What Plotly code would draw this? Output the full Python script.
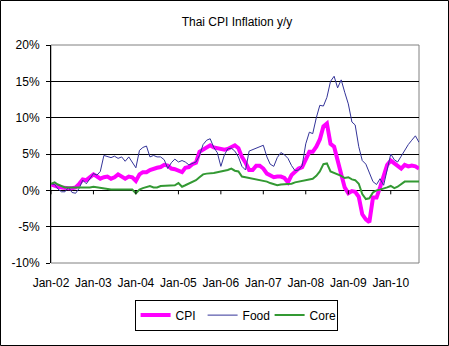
import pandas as pd
import plotly.graph_objects as go

# Monthly year-on-year inflation, Jan 2002 - Sep 2010 (%)
months = pd.date_range("2002-01-01", periods=105, freq="MS")

cpi = [
    0.8, 0.6, 0.5, 0.4, 0.3, 0.3, 0.3, 0.4, 0.9, 1.5, 1.4, 1.8,      # 2002
    2.2, 1.9, 1.6, 1.8, 1.9, 1.6, 1.8, 2.2, 1.9, 1.6, 1.9, 1.8,      # 2003
    1.3, 2.2, 2.5, 2.5, 2.8, 3.0, 3.1, 3.2, 3.5, 3.4, 3.0, 2.9,      # 2004
    2.7, 2.5, 3.1, 3.2, 3.6, 3.8, 5.3, 5.6, 6.0, 6.2, 5.9, 5.8,      # 2005
    5.6, 5.6, 5.7, 6.0, 6.2, 5.8, 4.6, 3.8, 2.8, 2.8, 3.4, 3.4,      # 2006
    3.0, 2.3, 2.0, 1.8, 1.9, 1.9, 1.7, 1.1, 2.1, 2.5, 3.0, 3.2,      # 2007
    4.3, 5.3, 5.3, 6.0, 7.0, 8.8, 9.2, 6.4, 6.0, 3.9, 2.2, 0.4,      # 2008
    -0.4, -0.1, -0.2, -0.9, -3.3, -4.0, -4.4, -1.0, -1.0, 0.4, 1.9, 3.5,  # 2009
    4.1, 3.7, 3.4, 3.0, 3.5, 3.3, 3.4, 3.3, 3.0,                     # 2010
]

food = [
    0.9, 0.8, 0.2, -0.2, -0.2, 0.4, -0.3, -0.4, 0.3, 1.4, 0.9, 1.6,  # 2002
    2.3, 2.1, 2.6, 4.8, 4.7, 4.5, 4.7, 4.4, 4.6, 4.0, 4.6, 3.8,      # 2003
    3.1, 5.5, 5.9, 6.1, 4.6, 4.8, 4.6, 4.6, 4.2, 3.0, 3.8, 4.3,      # 2004
    3.9, 4.1, 3.9, 3.5, 3.7, 3.9, 4.8, 6.3, 6.9, 7.1, 5.9, 5.2,      # 2005
    3.3, 4.9, 5.7, 5.8, 5.4, 4.6, 3.3, 2.8, 5.4, 5.6, 5.8, 6.1,      # 2006
    6.2, 4.6, 3.6, 3.3, 4.5, 5.2, 4.9, 4.4, 3.4, 2.7, 2.8, 3.4,      # 2007
    6.4, 8.0, 7.8, 10.0, 11.7, 11.6, 12.8, 15.0, 15.7, 14.1, 15.2, 13.5,  # 2008
    11.9, 9.4, 9.0, 6.0, 4.1, 3.6, 2.5, 1.2, 0.8, 1.6, 0.7, 2.9,     # 2009
    5.0, 4.2, 3.9, 4.7, 5.5, 6.3, 6.9, 7.5, 6.6,                     # 2010
]

core = [
    0.9, 1.1, 0.8, 0.6, 0.4, 0.4, 0.4, 0.3, 0.3, 0.3, 0.4, 0.4,      # 2002
    0.5, 0.4, 0.3, 0.2, 0.2, 0.1, 0.1, 0.1, 0.0, 0.0, 0.0, 0.1,      # 2003
    -0.4, 0.1, 0.3, 0.4, 0.6, 0.4, 0.4, 0.6, 0.6, 0.6, 0.7, 0.7,     # 2004
    1.0, 0.5, 0.7, 0.9, 1.1, 1.4, 1.8, 2.2, 2.3, 2.3, 2.4, 2.5,      # 2005
    2.6, 2.7, 2.8, 3.0, 2.7, 2.6, 1.9, 1.8, 1.7, 1.6, 1.5, 1.5,      # 2006
    1.4, 1.2, 1.0, 0.8, 0.7, 0.8, 0.8, 0.8, 0.9, 1.1, 1.2, 1.3,      # 2007
    1.4, 1.5, 1.6, 2.0, 2.6, 3.6, 3.7, 2.6, 2.4, 2.2, 2.0, 1.7,      # 2008
    1.8, 1.5, 1.4, 0.9, -0.5, -1.2, -1.1, -0.3, 0.0, 0.1, 0.2, 0.4,  # 2009
    0.6, 0.3, 0.5, 0.8, 1.2, 1.2, 1.2, 1.2, 1.2,                     # 2010
]

year_ticks = pd.date_range("2002-01-01", "2010-01-01", freq="YS")
year_labels = [d.strftime("%b-%y") for d in year_ticks]
y_ticks = [-10, -5, 0, 5, 10, 15, 20]
y_labels = [f"{v}%" for v in y_ticks]

W, H = 449, 346
ML, MR, MT, MB = 51, 30, 45, 83
FONT = "Liberation Sans, Arial, sans-serif"

fig = go.Figure()
fig.add_trace(go.Scatter(x=months, y=cpi, name="CPI", mode="lines",
                         line=dict(color="#FF00FF", width=4)))
fig.add_trace(go.Scatter(x=months, y=food, name="Food", mode="lines",
                         line=dict(color="#333399", width=1)))
fig.add_trace(go.Scatter(x=months, y=core, name="Core", mode="lines",
                         line=dict(color="#339933", width=2)))

# tick marks hanging below the zero line
for d in year_ticks:
    fig.add_shape(type="line", xref="x", yref="y", ysizemode="pixel",
                  yanchor=0, x0=d, x1=d, y0=0, y1=-4,
                  line=dict(color="black", width=1))

# plot-area frame
fig.add_shape(type="rect", xref="paper", yref="paper", x0=0, x1=1, y0=0, y1=1,
              line=dict(color="#808080", width=1), layer="below")

# chart-area frame around the whole figure
pw, ph = W - ML - MR, H - MT - MB
fig.add_shape(type="rect", xref="paper", yref="paper",
              x0=(0.5 - ML) / pw, x1=(W - 0.5 - ML) / pw,
              y0=-(H - 0.5 - MT - ph) / ph, y1=(MT - 0.5) / ph + 1,
              line=dict(color="black", width=1))

fig.update_layout(
    width=W, height=H,
    margin=dict(l=ML, r=MR, t=MT, b=MB),
    paper_bgcolor="white", plot_bgcolor="white",
    font=dict(family=FONT, size=12, color="black"),
    title=dict(text="Thai CPI Inflation y/y", x=237 / W, xanchor="center",
               y=1 - 22 / H, yanchor="middle", font=dict(size=12)),
    showlegend=True,
    legend=dict(orientation="h", x=0.503, xanchor="center", y=-0.168, yanchor="top",
                bordercolor="black", borderwidth=1, font=dict(size=12),
                itemwidth=30, entrywidth=22, tracegroupgap=0),
    xaxis=dict(type="date", range=[months[0], months[-1]],
               tickvals=year_ticks, ticktext=year_labels,
               showgrid=False, zeroline=False, showline=False,
               ticks="", ticklabelstandoff=11),
    yaxis=dict(range=[-10, 20], tickvals=y_ticks, ticktext=y_labels,
               showgrid=True, gridcolor="black", gridwidth=1,
               zeroline=False, showline=True, linecolor="black", linewidth=1,
               ticks="outside", ticklen=4, tickcolor="black",
               ticklabelstandoff=4),
)

fig.write_html("out.html")
